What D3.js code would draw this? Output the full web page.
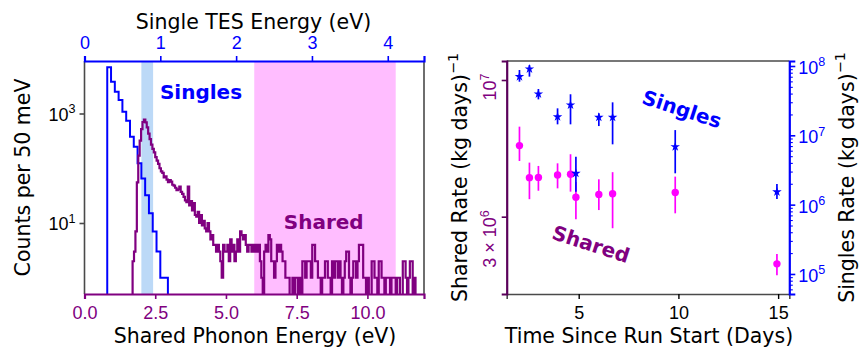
<!DOCTYPE html>
<html><head><meta charset="utf-8">
<script src="https://cdn.jsdelivr.net/npm/d3@7"></script>
<style>body{margin:0;background:#fff} svg{font-family:"DejaVu Sans",sans-serif;background:#fff}</style>
</head><body><svg id="c" width="860" height="348"></svg>
<script>
// ---------- DATA ----------
// Left panel: histograms, counts per 50 meV bin
const singlesBinStart = 0.30;   // single TES energy (eV), first bin edge
const singlesBinWidth = 0.05;
const singlesCounts = [6980, 3810, 2500, 1765, 1080, 738, 377, 248, 123, 65, 32, 15, 7, 3, 1, 1];
const sharedBinStart = 1.70;    // shared phonon energy (eV), first bin edge
const sharedBinWidth = 0.05;
const sharedCounts = [
  2, 3, 7, 55, 170, 320, 520, 700, 770, 690,
  560, 430, 340, 270, 225, 195, 160, 138, 120, 100,
  88, 82, 68, 71, 62, 56, 61, 57, 50, 48,
  44, 40, 41, 46, 37, 34, 30, 26, 24, 46,
  21, 25, 17, 23, 14, 13, 16, 10, 14, 9,
  11, 8, 7, 10, 7, 5, 6, 4, 4, 3,
  4, 3, 2, 1, 4, 3,
  3, 4, 2, 5, 3, 4, 2, 3, 5, 3,
  7, 6, 5, 6, 4, 3, 4, 4, 3, 4,
  3, 4, 3, 4, 2, 1, 0, 3, 4, 3,
  6, 5, 2, 2, 1, 2, 4, 3, 4, 3,
  2, 2, 1, 1, 1, 0, 0, 1, 0, 1,
  1, 0, 1, 0, 2, 2, 1, 2, 2, 2,
  1, 4, 4, 2, 2, 1, 1, 0, 1, 1,
  2, 2, 1, 1, 0, 2, 1, 2, 2, 1,
  2, 1, 0, 1, 2, 3, 3, 1, 0, 1,
  2, 2, 1, 2, 4, 4, 4, 1, 1, 0,
  1, 0, 0, 2, 2, 1, 1, 0, 2, 2,
  1, 1, 0, 1, 1, 1, 0, 1, 1, 1,
  0, 1, 1, 0, 0, 2, 2, 1, 0, 1,
  2, 2, 0, 1
];
const singlesBand = [0.75, 0.905];   // single TES energy (eV)
const sharedBand = [6.0, 11.0];      // shared phonon energy (eV)
const topTicks = [0, 1, 2, 3, 4];
const bottomTicks = [0, 2.5, 5, 7.5, 10];
const countTicks = [{v: 10, e: "1"}, {v: 1000, e: "3"}];

// Right panel: rates vs time
const days        = [2.03, 2.53, 2.98, 3.94, 4.59, 4.86, 6.01, 6.70, 9.84, 14.94];
const singlesRate = [7.02e7, 9.06e7, 3.95e7, 1.85e7, 2.74e7, 2.83e6, 1.82e7, 1.82e7, 6.84e6, 1.53e6];
const singlesLo   = [5.93e7, 7.02e7, 3.30e7, 1.44e7, 1.44e7, 1.53e6, 1.36e7, 7.41e6, 2.83e6, 1.21e6];
const singlesHi   = [8.75e7, 1.03e8, 4.66e7, 2.45e7, 3.91e7, 4.91e6, 2.08e7, 2.99e7, 1.19e7, 1.98e6];
const sharedRate  = [5.61e6, 4.23e6, 4.24e6, 4.33e6, 4.36e6, 3.56e6, 3.65e6, 3.67e6, 3.71e6, 1.98e6];
const sharedLo    = [4.90e6, 3.50e6, 3.77e6, 3.85e6, 3.74e6, 2.93e6, 3.18e6, 2.71e6, 3.09e6, 1.79e6];
const sharedHi    = [6.63e6, 4.83e6, 4.69e6, 4.80e6, 5.20e6, 4.07e6, 4.17e6, 4.44e6, 4.27e6, 2.16e6];
const dayTicks = [5, 10, 15];
const sharedRateTicks = [{v: 3e6, b: "3 × 10", e: "6"}, {v: 1e7, b: "10", e: "7"}];
const singlesRateTicks = [{v: 1e5, e: "5"}, {v: 1e6, e: "6"}, {v: 1e7, e: "7"}, {v: 1e8, e: "8"}];

// ---------- STYLE ----------
const BLUE = "#0000ff", PURPLE = "#800080", MAGENTA = "#ff00ff", SPINE = "#4a4a4a";
const TICKF = 18, LABF = 20.5;
const L = {x0: 84.5, x1: 424, y0: 61, y1: 294};
const R = {x0: 506.7, x1: 789.3, y0: 61, y1: 294};

const svg = d3.select("#c");

function supText(sel, base, exp, size) {
  sel.text(null);
  sel.append("tspan").text(base);
  sel.append("tspan").attr("dy", -0.42 * size).attr("font-size", size * 0.7).text(exp);
}

// ---------- LEFT PANEL ----------
const xShared = d3.scaleLinear().domain([0, 12]).range([L.x0, L.x1]);
const xSingle = d3.scaleLinear().domain([0, 4.478]).range([L.x0, L.x1]);
const yCounts = d3.scaleLog().domain([Math.pow(10, -0.297), Math.pow(10, 3.959)]).range([L.y1, L.y0]);

svg.append("clipPath").attr("id", "clipL").append("rect")
  .attr("x", L.x0).attr("y", L.y0).attr("width", L.x1 - L.x0).attr("height", L.y1 - L.y0);
const gL = svg.append("g").attr("clip-path", "url(#clipL)");

gL.append("rect").attr("x", xShared(sharedBand[0])).attr("y", L.y0)
  .attr("width", xShared(sharedBand[1]) - xShared(sharedBand[0])).attr("height", L.y1 - L.y0)
  .attr("fill", "#ffbdff");
gL.append("rect").attr("x", xSingle(singlesBand[0])).attr("y", L.y0)
  .attr("width", xSingle(singlesBand[1]) - xSingle(singlesBand[0])).attr("height", L.y1 - L.y0)
  .attr("fill", "#bcd9f7");

function stepPath(counts, start, width, xs) {
  const yb = L.y1 + 4;
  const yv = c => c > 0 ? yCounts(c) : yb;
  let p = `M${xs(start)},${yb}`;
  counts.forEach((c, i) => {
    const a = xs(start + i * width), b = xs(start + (i + 1) * width);
    p += `L${a},${yv(c)}L${b},${yv(c)}`;
  });
  p += `L${xs(start + counts.length * width)},${yb}`;
  return p;
}
gL.append("path").attr("d", stepPath(singlesCounts, singlesBinStart, singlesBinWidth, xSingle))
  .attr("fill", "none").attr("stroke", BLUE).attr("stroke-width", 2);
gL.append("path").attr("d", stepPath(sharedCounts, sharedBinStart, sharedBinWidth, xShared))
  .attr("fill", "none").attr("stroke", PURPLE).attr("stroke-width", 2.2).attr("stroke-linejoin", "miter");

// spines left panel
svg.append("line").attr("x1", L.x0).attr("x2", L.x0).attr("y1", L.y0).attr("y2", L.y1).attr("stroke", SPINE).attr("stroke-width", 1.6);
svg.append("line").attr("x1", L.x1).attr("x2", L.x1).attr("y1", L.y0).attr("y2", L.y1).attr("stroke", SPINE).attr("stroke-width", 1.6);

// top axis (single TES energy)
const axTop = svg.append("g").attr("transform", `translate(0,${L.y0})`)
  .call(d3.axisTop(xSingle).tickValues(topTicks).tickFormat(d3.format("d")).tickSize(5).tickPadding(4));
axTop.select(".domain").attr("stroke", BLUE).attr("stroke-width", 2.2);
axTop.selectAll(".tick line").attr("stroke", BLUE).attr("stroke-width", 1.6);
axTop.selectAll(".tick text").attr("fill", BLUE).attr("font-size", TICKF).attr("y", -11.7).attr("dy", 0);

// bottom axis (shared phonon energy)
const axBot = svg.append("g").attr("transform", `translate(0,${L.y1})`)
  .call(d3.axisBottom(xShared).tickValues(bottomTicks).tickFormat(d3.format(".1f")).tickSize(5).tickPadding(4));
axBot.select(".domain").attr("stroke", PURPLE).attr("stroke-width", 2.2);
axBot.selectAll(".tick line").attr("stroke", PURPLE).attr("stroke-width", 1.6);
axBot.selectAll(".tick text").attr("fill", PURPLE).attr("font-size", TICKF).attr("y", 25).attr("dy", 0);

// left axis counts
const axCnt = svg.append("g").attr("transform", `translate(${L.x0},0)`)
  .call(d3.axisLeft(yCounts).tickValues(countTicks.map(d => d.v)).tickSize(5).tickFormat(""));
axCnt.select(".domain").remove();
axCnt.selectAll(".tick line").attr("stroke", SPINE).attr("stroke-width", 1.6);
axCnt.selectAll(".tick").append("text").attr("x", -9).attr("y", 7).attr("text-anchor", "end")
  .attr("fill", "#000").attr("font-size", TICKF)
  .each(function(d) { supText(d3.select(this), "10", countTicks.find(t => t.v === d).e, TICKF); });

// labels left panel
svg.append("text").attr("x", 253.5).attr("y", 29.3).attr("text-anchor", "middle").attr("font-size", LABF).text("Single TES Energy (eV)");
svg.append("text").attr("x", 255).attr("y", 343.3).attr("text-anchor", "middle").attr("font-size", LABF).text("Shared Phonon Energy (eV)");
svg.append("text").attr("transform", "translate(30,177.5) rotate(-90)").attr("text-anchor", "middle").attr("font-size", LABF).text("Counts per 50 meV");
svg.append("text").attr("x", 201).attr("y", 99).attr("text-anchor", "middle").attr("font-size", 20).attr("font-weight", "bold").attr("fill", BLUE).text("Singles");
svg.append("text").attr("x", 323.7).attr("y", 229).attr("text-anchor", "middle").attr("font-size", 20).attr("font-weight", "bold").attr("fill", PURPLE).text("Shared");

// ---------- RIGHT PANEL ----------
const xDays = d3.scaleLinear().domain([1.39, 15.56]).range([R.x0, R.x1]);
const yShared = d3.scaleLog().domain([Math.pow(10, 6.1813), Math.pow(10, 7.0727)]).range([R.y1, R.y0]);
const ySingles = d3.scaleLog().domain([Math.pow(10, 4.711), Math.pow(10, 8.072)]).range([R.y1, R.y0]);

// spines top/bottom
svg.append("line").attr("x1", R.x0).attr("x2", R.x1).attr("y1", R.y0).attr("y2", R.y0).attr("stroke", SPINE).attr("stroke-width", 1.6);

const axDays = svg.append("g").attr("transform", `translate(0,${R.y1})`)
  .call(d3.axisBottom(xDays).tickValues(dayTicks).tickFormat(d3.format("d")).tickSize(5).tickPadding(4));
axDays.select(".domain").attr("stroke", SPINE).attr("stroke-width", 1.6);
axDays.selectAll(".tick line").attr("stroke", "#000").attr("stroke-width", 1.4);
axDays.selectAll(".tick text").attr("fill", "#000").attr("font-size", TICKF).attr("y", 25).attr("dy", 0);

// left axis (shared rate)
const axSh = svg.append("g").attr("transform", `translate(${R.x0},0)`)
  .call(d3.axisLeft(yShared).tickValues(sharedRateTicks.map(d => d.v)).tickSize(5).tickFormat(""));
axSh.select(".domain").attr("stroke", "#5a005a").attr("stroke-width", 2.2);
axSh.selectAll(".tick line").attr("stroke", "#5a005a").attr("stroke-width", 1.6);
axSh.selectAll(".tick").append("text")
  .attr("transform", "translate(-10.5,-7) rotate(-90)")
  .attr("text-anchor", "end").attr("fill", PURPLE).attr("font-size", TICKF)
  .each(function(d) { const t = sharedRateTicks.find(s => s.v === d); supText(d3.select(this), t.b, t.e, TICKF); });

// right axis (singles rate)
const axSi = svg.append("g").attr("transform", `translate(${R.x1},0)`)
  .call(d3.axisRight(ySingles).tickValues(singlesRateTicks.map(d => d.v)).tickSize(6).tickFormat(""));
axSi.select(".domain").attr("stroke", BLUE).attr("stroke-width", 2.2);
axSi.selectAll(".tick line").attr("stroke", BLUE).attr("stroke-width", 1.6);
axSi.selectAll(".tick").append("text").attr("x", 9).attr("y", 7.5).attr("text-anchor", "start")
  .attr("fill", BLUE).attr("font-size", TICKF)
  .each(function(d) { supText(d3.select(this), "10", singlesRateTicks.find(t => t.v === d).e, TICKF); });
const minorVals = ySingles.ticks().filter(v => !singlesRateTicks.some(t => Math.abs(t.v - v) / v < 1e-6));
svg.append("g").attr("transform", `translate(${R.x1},0)`)
  .call(d3.axisRight(ySingles).tickValues(minorVals).tickSize(3.5).tickFormat(""))
  .call(g => g.select(".domain").remove())
  .selectAll(".tick line").attr("stroke", BLUE).attr("stroke-width", 1.1);

// shared points
const gR = svg.append("g");
days.forEach((d, i) => {
  gR.append("line").attr("x1", xDays(d)).attr("x2", xDays(d))
    .attr("y1", yShared(sharedLo[i])).attr("y2", yShared(sharedHi[i]))
    .attr("stroke", MAGENTA).attr("stroke-width", 1.7);
});
gR.selectAll("circle.sh").data(days).join("circle").attr("class", "sh")
  .attr("cx", d => xDays(d)).attr("cy", (d, i) => yShared(sharedRate[i])).attr("r", 3.7).attr("fill", MAGENTA);

// singles points
days.forEach((d, i) => {
  gR.append("line").attr("x1", xDays(d)).attr("x2", xDays(d))
    .attr("y1", ySingles(singlesLo[i])).attr("y2", ySingles(singlesHi[i]))
    .attr("stroke", BLUE).attr("stroke-width", 1.7);
});
const star = d3.symbol().type(d3.symbolStar).size(28);
gR.selectAll("path.si").data(days).join("path").attr("class", "si")
  .attr("d", star).attr("fill", BLUE)
  .attr("transform", (d, i) => `translate(${xDays(d)},${ySingles(singlesRate[i])})`);

// labels right panel
svg.append("text").attr("x", 649).attr("y", 343.3).attr("text-anchor", "middle").attr("font-size", LABF).text("Time Since Run Start (Days)");
const lblSh = svg.append("text").attr("transform", "translate(467,177.5) rotate(-90)").attr("text-anchor", "middle").attr("font-size", LABF);
supText(lblSh, "Shared Rate (kg days)", "−1", LABF);
const lblSi = svg.append("text").attr("transform", "translate(854,177.5) rotate(-90)").attr("text-anchor", "middle").attr("font-size", LABF);
supText(lblSi, "Singles Rate (kg days)", "−1", LABF);

svg.append("text").attr("transform", "translate(682,109) rotate(18)").attr("text-anchor", "middle").attr("dy", "0.36em")
  .attr("font-size", 20).attr("font-weight", "bold").attr("fill", BLUE).text("Singles");
svg.append("text").attr("transform", "translate(591,244) rotate(18)").attr("text-anchor", "middle").attr("dy", "0.36em")
  .attr("font-size", 20).attr("font-weight", "bold").attr("fill", PURPLE).text("Shared");
</script></body></html>
